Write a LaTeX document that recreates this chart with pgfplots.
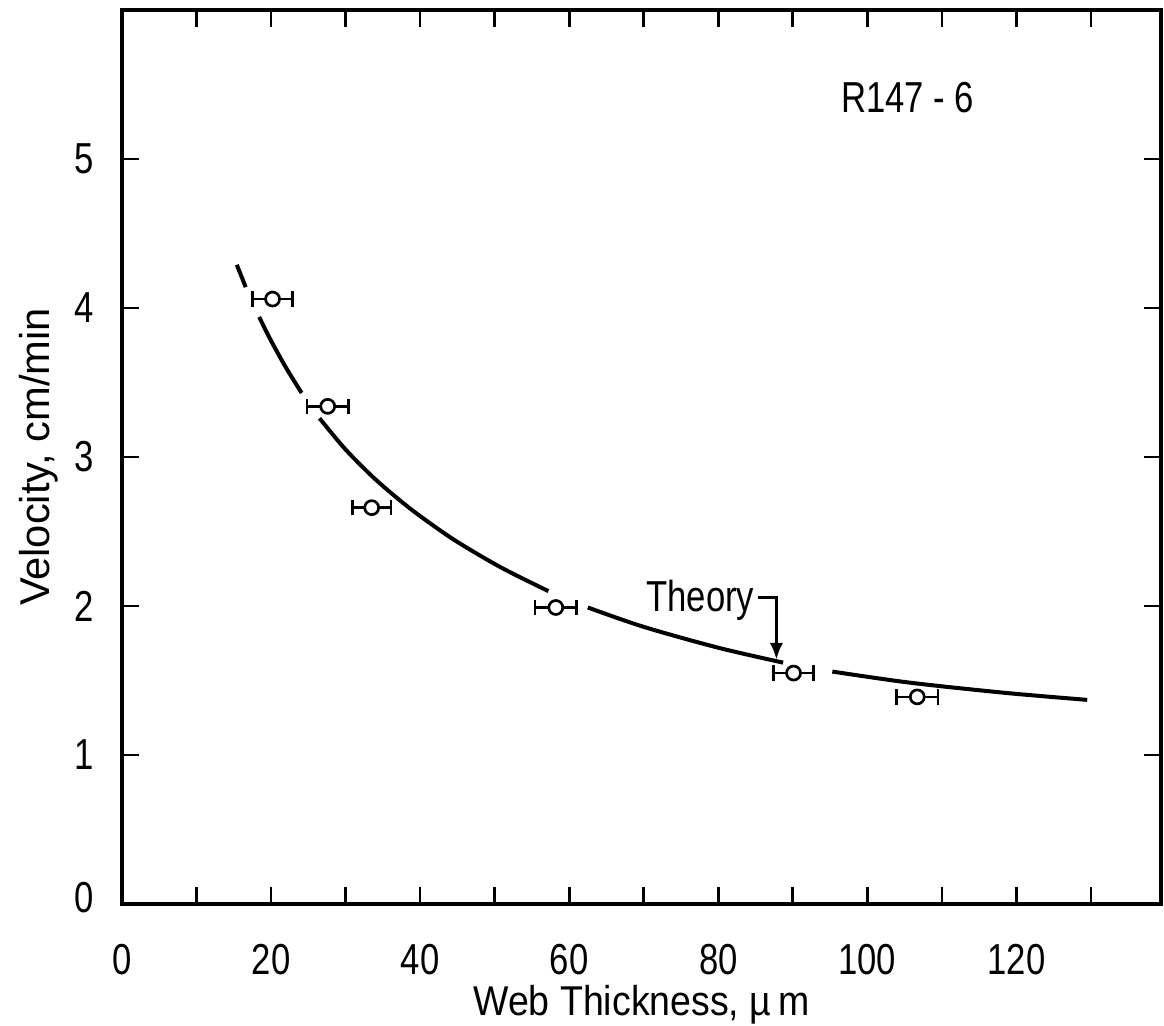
\documentclass[border=0pt]{standalone}
\usepackage{pgfplots}
\pgfplotsset{compat=1.18}
\usepackage{fontspec}
\setmainfont{Liberation Sans}[FakeStretch=0.8]
\newfontfamily\xlabfont{Liberation Sans}[FakeStretch=0.9]
\newfontfamily\ylabfont{Liberation Sans}
\usetikzlibrary{arrows.meta}

\begin{document}
\begin{tikzpicture}
\begin{axis}[
  scale only axis, width=311.7pt, height=268.2pt,
  xmin=0, xmax=139.4, ymin=0, ymax=6,
  xtick={0,20,...,120}, minor xtick={10,30,...,130},
  ytick={0,1,...,5}, yticklabels={\raisebox{4pt}{0},1,2,3,4,5},
  tick align=inside, major tick length=5pt, minor tick length=5pt,
  every tick/.style={black, line width=0.8pt},
  axis line style={line width=1pt},
  tick label style={font=\fontsize{13}{15}\selectfont},
  /pgf/number format/assume math mode=true,
  xticklabel style={yshift=-8.5pt},
  yticklabel style={xshift=-5pt},
  xlabel={Web Thickness, µ\,m}, ylabel={Velocity, cm/min},
  xlabel style={font=\xlabfont\fontsize{12.5}{15}\selectfont,
    at={([yshift=-33.3pt]rel axis cs:0.5,0)}, anchor=base},
  ylabel style={font=\ylabfont\fontsize{12.5}{15}\selectfont,
    at={([xshift=-21.6pt]rel axis cs:0,0.5)}, anchor=base},
  unbounded coords=jump,
]
\coordinate (sw) at (rel axis cs:0,0);
\coordinate (ne) at (rel axis cs:1,1);

% theory curve, broken where it passes the data points
\addplot[black, line width=1.2pt, smooth] table {
x y
15.4 4.29
16.6 4.14
nan nan
18.4 3.94
20 3.78
22 3.60
24.1 3.43
nan nan
26.5 3.26
30 3.05
34 2.85
38 2.68
41.2 2.56
45 2.43
50.8 2.26
57.2 2.10
nan nan
62.5 1.99
70 1.86
80 1.72
88.7 1.62
nan nan
95.3 1.56
100 1.525
105 1.49
111.1 1.455
120 1.41
129.5 1.37
};

% measurements with thickness error bars
\addplot[black, only marks, mark=*, mark size=2.1pt,
  mark options={fill=white, line width=0.8pt},
  error bars/.cd, x dir=both, x explicit,
  error bar style={line width=0.8pt},
  error mark options={rotate=90, mark size=2.3pt, line width=0.8pt}]
  table[x=x, y=y, x error=ex] {
x y ex
20.2 4.06 2.7
27.6 3.34 2.8
33.5 2.66 2.6
58.2 1.99 2.8
90.1 1.55 2.7
106.7 1.39 2.8
};

\node[anchor=base, font=\fontsize{13}{15}\selectfont] at (axis cs:105.4,5.31) {R147 - 6};
\node[anchor=base, font=\fontsize{13}{15}\selectfont] at (axis cs:77.6,1.96) {Theory};
\draw[line width=0.9pt, -{Latex[length=5pt,width=4pt]}] (axis cs:85.3,2.06) -| (axis cs:87.8,1.64);
\end{axis}
\pgfresetboundingbox
\path ([xshift=-36.6pt,yshift=-36.3pt]sw) rectangle ([xshift=0.9pt,yshift=3pt]ne);
\end{tikzpicture}
\end{document}
